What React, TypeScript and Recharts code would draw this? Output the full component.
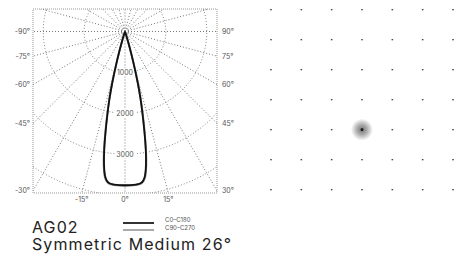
import React from "react";
import {
    ScatterChart,
    Scatter,
    XAxis,
    YAxis,
    ReferenceLine,
    ReferenceArea,
} from "recharts";

// luminous intensity (cd) per angle from nadir, symmetric
const beamAngles = [0, 2, 4, 5, 6, 7, 8, 9, 10, 11, 12, 13, 14, 15, 16, 17, 18, 20];
const c0c180 = [3760, 3760, 3755, 3745, 3725, 3670, 3540, 3280, 2920, 2480, 2060, 1680, 1260, 820, 460, 200, 70, 0];
const c90c270 = [3770, 3770, 3765, 3755, 3740, 3690, 3570, 3320, 2960, 2520, 2100, 1720, 1300, 860, 490, 220, 80, 0];

const ringValues = [1000, 2000, 3000, 4000];
const ringLabels = ["1000", "2000", "3000"];
const sideAngles = [90, 75, 60, 45, 30];
const bottomAngles = [-15, 0, 15];

// floor grid (columns x rows) and spot position
const gridCols = [-3, -2, -1, 0, 1, 2, 3];
const gridRows = [4, 3, 2, 1, 0, -1, -2];
const spot = [{ x: 0, y: 0 }];

const X_DOMAIN: [number, number] = [-2250, 2250];
const Y_DOMAIN: [number, number] = [-3950, 550];

const rad = (d: number) => (d * Math.PI) / 180;

function curvePoints(values: number[]) {
    const pts: { x: number; y: number }[] = [];
    for (let i = beamAngles.length - 1; i > 0; i--) {
        const a = rad(-beamAngles[i]);
        pts.push({ x: values[i] * Math.sin(a), y: -values[i] * Math.cos(a) });
    }
    for (let i = 0; i < beamAngles.length; i++) {
        const a = rad(beamAngles[i]);
        pts.push({ x: values[i] * Math.sin(a), y: -values[i] * Math.cos(a) });
    }
    return pts;
}

function ringPoints(r: number) {
    const pts: { x: number; y: number }[] = [];
    for (let d = 0; d <= 360; d += 3) {
        pts.push({ x: r * Math.sin(rad(d)), y: -r * Math.cos(rad(d)) });
    }
    return pts;
}

const spokeAngles = Array.from({ length: 24 }, (_, i) => i * 15);
const sideTicks = sideAngles.map((a) => (a === 90 ? 0 : X_DOMAIN[0] / Math.tan(rad(a))));
const bottomTicks = bottomAngles.map((a) => -Y_DOMAIN[0] * Math.tan(rad(a)));

const gridData = gridCols.flatMap((x) => gridRows.map((y) => ({ x, y })));

const FONT = "Inter, 'DejaVu Sans', sans-serif";
const tickStyle = { fill: "#555", fontSize: 7, fontFamily: FONT };

const NoShape = () => <g />;

const RingLabel = (props: any) => {
    const { cx, cy, payload } = props;
    return (
        <g>
            <rect x={cx - 10} y={cy - 4} width={20} height={8} fill="#fff" />
            <text
                x={cx}
                y={cy}
                dy="0.35em"
                textAnchor="middle"
                fontSize={7}
                fontFamily={FONT}
                fill="#555"
            >
                {payload.label}
            </text>
        </g>
    );
};

const GridDot = (props: any) => (
    <rect x={props.cx - 0.8} y={props.cy - 0.6} width={1.6} height={1.2} fill="#333" />
);

const SpotShape = (props: any) => (
    <g>
        <defs>
            <radialGradient id="spot-glow">
                <stop offset="0%" stopColor="#777" />
                <stop offset="45%" stopColor="#aaa" />
                <stop offset="100%" stopColor="#fff" />
            </radialGradient>
        </defs>
        <circle cx={props.cx} cy={props.cy} r={11} fill="url(#spot-glow)" />
        <circle cx={props.cx} cy={props.cy} r={1.4} fill="#000" />
    </g>
);

export default function App() {
    const ringLabelData = ringLabels.map((label, i) => ({ x: 0, y: -ringValues[i], label }));

    return (
        <div style={{ position: "absolute", left: 0, top: 0, width: 454, height: 261, background: "#fff" }}>
            <div style={{ position: "absolute", left: 0, top: 0 }}>
                <ScatterChart width={240} height={210} margin={{ top: 9, right: 0, bottom: 0, left: 0 }}>
                    <XAxis
                        type="number"
                        dataKey="x"
                        domain={X_DOMAIN}
                        allowDataOverflow
                        ticks={bottomTicks}
                        tickFormatter={(_v: number, i: number) => `${bottomAngles[i]}°`}
                        axisLine={false}
                        tickLine={false}
                        tickSize={0}
                        tickMargin={4}
                        height={17}
                        tick={tickStyle}
                        interval={0}
                    />
                    <YAxis
                        yAxisId="left"
                        type="number"
                        dataKey="y"
                        domain={Y_DOMAIN}
                        allowDataOverflow
                        ticks={sideTicks}
                        tickFormatter={(_v: number, i: number) => `-${sideAngles[i]}°`}
                        axisLine={false}
                        tickLine={false}
                        tickSize={0}
                        tickMargin={3}
                        width={33}
                        tick={tickStyle}
                        interval={0}
                    />
                    <YAxis
                        yAxisId="right"
                        orientation="right"
                        type="number"
                        dataKey="y"
                        domain={Y_DOMAIN}
                        allowDataOverflow
                        ticks={sideTicks}
                        tickFormatter={(_v: number, i: number) => `${sideAngles[i]}°`}
                        axisLine={false}
                        tickLine={false}
                        tickSize={0}
                        tickMargin={5}
                        width={23}
                        tick={{ ...tickStyle, textAnchor: "start" }}
                        interval={0}
                    />

                    <ReferenceArea
                        yAxisId="left"
                        x1={X_DOMAIN[0]}
                        x2={X_DOMAIN[1]}
                        y1={Y_DOMAIN[0]}
                        y2={Y_DOMAIN[1]}
                        fill="#fff"
                        fillOpacity={0}
                        stroke="#999"
                        strokeDasharray="1 1"
                    />

                    {spokeAngles.map((a) => (
                        <ReferenceLine
                            key={`spoke-${a}`}
                            yAxisId="left"
                            segment={[
                                { x: 0, y: 0 },
                                { x: 6000 * Math.sin(rad(a)), y: -6000 * Math.cos(rad(a)) },
                            ]}
                            stroke="#777"
                            strokeDasharray="1 2"
                            ifOverflow="hidden"
                        />
                    ))}

                    {ringValues.map((r) => (
                        <Scatter
                            key={`ring-${r}`}
                            yAxisId="left"
                            data={ringPoints(r)}
                            line={{ stroke: "#888", strokeWidth: 1, strokeDasharray: "1 2" }}
                            shape={NoShape}
                            isAnimationActive={false}
                        />
                    ))}

                    <Scatter
                        yAxisId="left"
                        data={ringLabelData}
                        shape={RingLabel}
                        isAnimationActive={false}
                    />

                    <Scatter
                        yAxisId="left"
                        data={curvePoints(c90c270)}
                        line={{ stroke: "#8a8a8a", strokeWidth: 2 }}
                        lineJointType="natural"
                        shape={NoShape}
                        isAnimationActive={false}
                    />
                    <Scatter
                        yAxisId="left"
                        data={curvePoints(c0c180)}
                        line={{ stroke: "#111", strokeWidth: 1.8 }}
                        lineJointType="natural"
                        shape={NoShape}
                        isAnimationActive={false}
                    />
                </ScatterChart>
            </div>

            <div style={{ position: "absolute", left: 240, top: 0 }}>
                <ScatterChart width={214} height={210} margin={{ top: 9.7, right: 1, bottom: 20.3, left: 31 }}>
                    <XAxis type="number" dataKey="x" domain={[-3, 3]} hide />
                    <YAxis type="number" dataKey="y" domain={[-2, 4]} hide />
                    <Scatter data={spot} shape={SpotShape} isAnimationActive={false} />
                    <Scatter data={gridData} shape={GridDot} isAnimationActive={false} />
                </ScatterChart>
            </div>

            <div
                style={{
                    position: "absolute",
                    left: 32,
                    top: 219.3,
                    fontFamily: FONT,
                    fontSize: 16,
                    lineHeight: "16.5px",
                    letterSpacing: "1.1px",
                    color: "#222",
                    whiteSpace: "nowrap",
                }}
            >
                AG02
                <br />
                Symmetric Medium 26°
            </div>

            <div style={{ position: "absolute", left: 123, top: 222, width: 31, height: 2, background: "#333" }} />
            <div style={{ position: "absolute", left: 123, top: 229, width: 31, height: 2, background: "#aaa" }} />
            <div
                style={{
                    position: "absolute",
                    left: 165,
                    top: 216,
                    fontFamily: FONT,
                    fontSize: 6,
                    lineHeight: "8px",
                    color: "#555",
                    whiteSpace: "nowrap",
                }}
            >
                C0–C180
                <br />
                C90–C270
            </div>
        </div>
    );
}
